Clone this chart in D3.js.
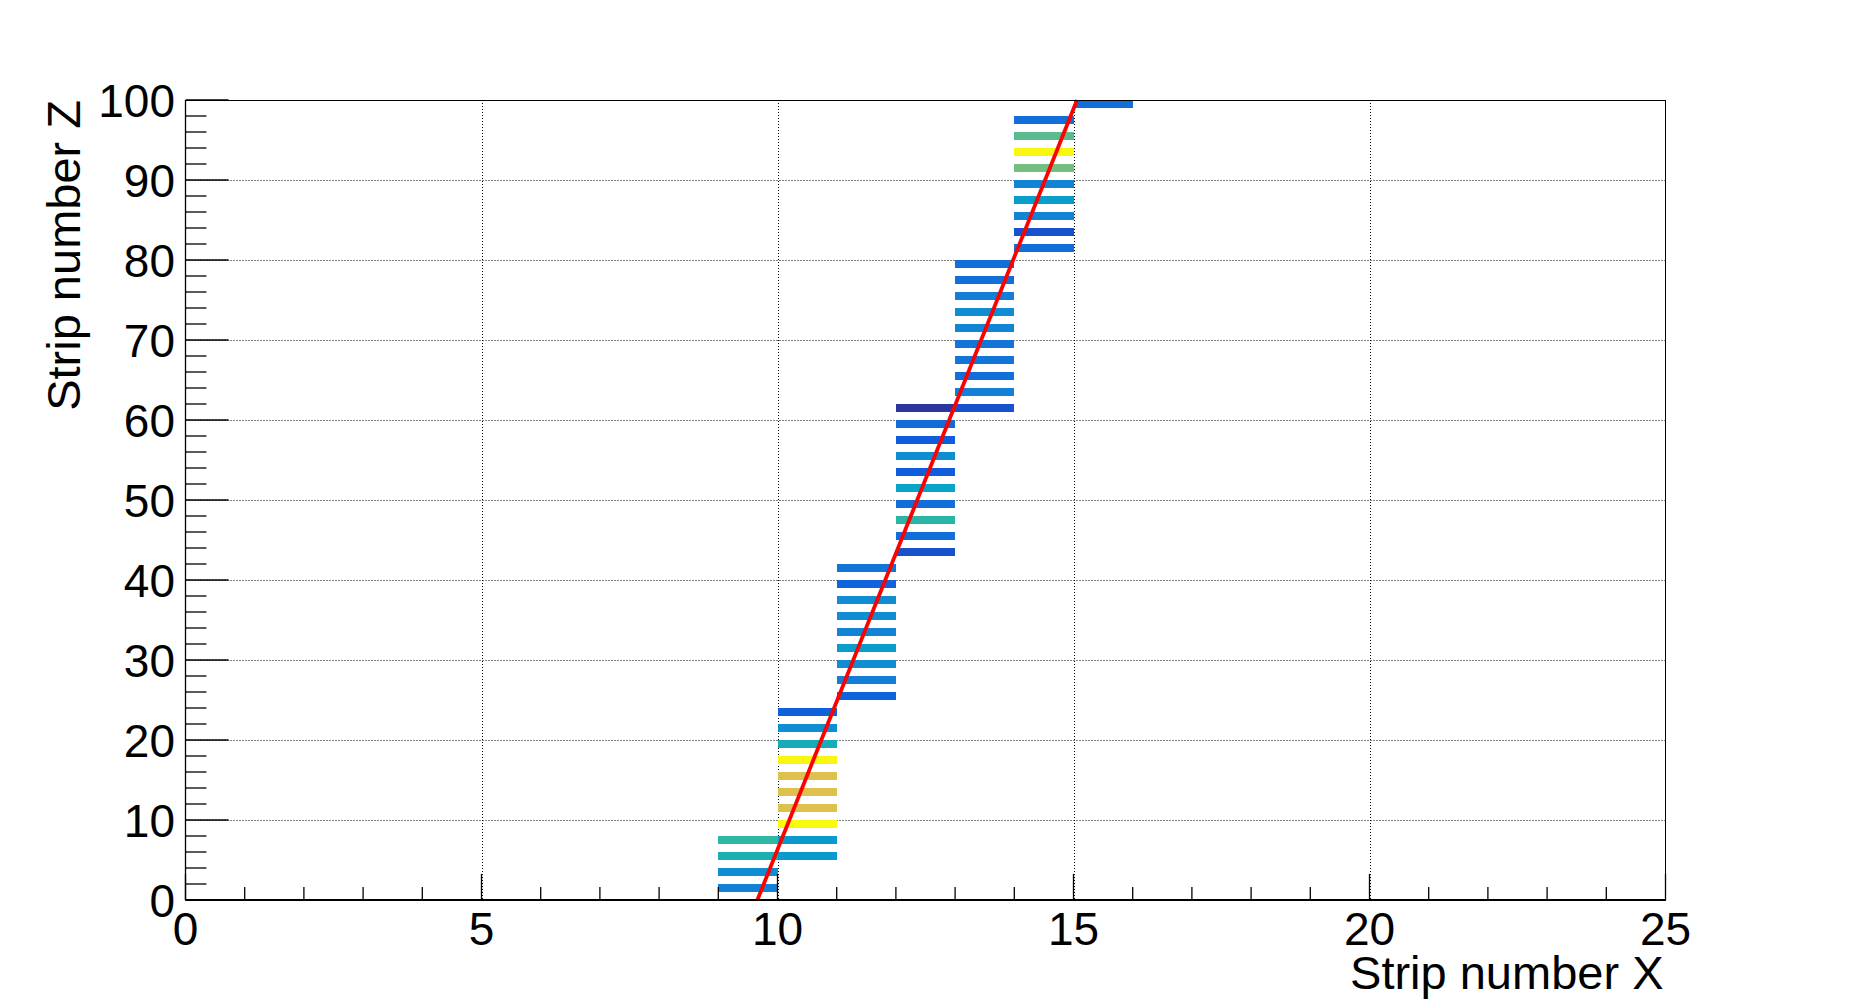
<!DOCTYPE html>
<html>
<head>
<meta charset="utf-8">
<script src="https://cdn.jsdelivr.net/npm/d3@7"></script>
<style>
  html, body { margin: 0; padding: 0; background: #fff; }
  svg { display: block; }
  text { font-family: "Liberation Sans", Arial, Helvetica, sans-serif; fill: #000; }
</style>
</head>
<body>
<svg id="chart" width="1851" height="1000"></svg>
<script>
// ---------- data ----------
// hit cells: strip X bin (lower edge), strip Z bin (lower edge), relative amplitude
const cellX = [
  9, 9, 9, 9,
  10, 10, 10, 10, 10, 10, 10, 10, 10, 10,
  11, 11, 11, 11, 11, 11, 11, 11, 11,
  12, 12, 12, 12, 12, 12, 12, 12, 12, 12,
  13, 13, 13, 13, 13, 13, 13, 13, 13, 13,
  14, 14, 14, 14, 14, 14, 14, 14, 14,
  15
];
const cellZ = [
  1, 3, 5, 7,
  5, 7, 9, 11, 13, 15, 17, 19, 21, 23,
  25, 27, 29, 31, 33, 35, 37, 39, 41,
  43, 45, 47, 49, 51, 53, 55, 57, 59, 61,
  61, 63, 65, 67, 69, 71, 73, 75, 77, 79,
  81, 83, 85, 87, 89, 91, 93, 95, 97,
  99
];
const cellValue = [
  0.25, 0.29, 0.45, 0.50,
  0.34, 0.34, 1.00, 0.79, 0.79, 0.79, 0.99, 0.43, 0.30, 0.14,
  0.15, 0.24, 0.29, 0.35, 0.26, 0.29, 0.29, 0.15, 0.21,
  0.10, 0.19, 0.49, 0.19, 0.38, 0.13, 0.29, 0.13, 0.18, 0.03,
  0.10, 0.25, 0.19, 0.21, 0.21, 0.26, 0.29, 0.24, 0.19, 0.19,
  0.19, 0.10, 0.26, 0.35, 0.26, 0.60, 0.99, 0.56, 0.19,
  0.19
];
// straight-line track fit endpoints
const fitX = [9.66, 15.06];
const fitZ = [0, 100];

// axis ticks
const xMajorTicks = [0, 5, 10, 15, 20, 25];
const xMinorTicks = d3.range(0, 26, 1);
const yMajorTicks = [0, 10, 20, 30, 40, 50, 60, 70, 80, 90, 100];
const yMinorTicks = d3.range(0, 101, 2);
const xTitle = "Strip number X";
const yTitle = "Strip number Z";

// colour palette (ROOT kBird)
const paletteStops = [0, 0.125, 0.25, 0.375, 0.5, 0.625, 0.75, 0.875, 1];
const paletteColors = ["#352a87", "#0f5cdd", "#1481d6", "#06a4ca", "#2eb7a4",
                       "#87bf77", "#d1bb59", "#fec832", "#f9fb0e"];

// ---------- layout ----------
const L = 185.5, R = 1665.5, T = 100, B = 900;
const svg = d3.select("#chart");

const x = d3.scaleLinear().domain([0, 25]).range([L, R]);
const y = d3.scaleLinear().domain([0, 100]).range([B, T]);
const color = d3.scaleLinear().domain(paletteStops).range(paletteColors)
  .interpolate(d3.interpolateRgb).clamp(true);

svg.append("rect").attr("width", 1851).attr("height", 1000).attr("fill", "#fff");

// grid
const grid = svg.append("g").attr("stroke", "#000").attr("stroke-width", 1)
  .attr("stroke-dasharray", "1,2").attr("fill", "none");
grid.selectAll("line.gx").data(xMajorTicks.filter(d => d > 0 && d < 25)).join("line")
  .attr("x1", d => Math.round(x(d)) + 0.5).attr("x2", d => Math.round(x(d)) + 0.5)
  .attr("y1", T).attr("y2", B);
grid.selectAll("line.gy").data(yMajorTicks.filter(d => d > 0 && d < 100)).join("line")
  .attr("class", "gy")
  .attr("y1", d => Math.round(y(d)) + 0.5).attr("y2", d => Math.round(y(d)) + 0.5)
  .attr("x1", L).attr("x2", R);

// cells
const cells = cellX.map((cx, i) => ({ x: cx, z: cellZ[i], v: cellValue[i] }));
svg.append("g").selectAll("rect").data(cells).join("rect")
  .attr("x", d => x(d.x))
  .attr("width", d => x(d.x + 1) - x(d.x))
  .attr("y", d => y(d.z + 1))
  .attr("height", d => y(d.z) - y(d.z + 1))
  .attr("fill", d => color(d.v))
  .attr("shape-rendering", "crispEdges");

// fit line
svg.append("clipPath").attr("id", "plotclip")
  .append("rect").attr("x", L).attr("y", T - 2).attr("width", R - L).attr("height", B - T + 2);
svg.append("path")
  .datum(fitX.map((fx, i) => [fx, fitZ[i]]))
  .attr("clip-path", "url(#plotclip)")
  .attr("d", d3.line().x(d => x(d[0])).y(d => y(d[1])))
  .attr("stroke", "#ff0000").attr("stroke-width", 3.8).attr("fill", "none");

// frame
svg.append("rect").attr("x", L).attr("y", T + 0.5).attr("width", R - L).attr("height", B - T - 0.5)
  .attr("fill", "none").attr("stroke", "#000").attr("stroke-width", 1);

// x axis ticks
const xAxisG = svg.append("g").attr("stroke", "#000").attr("stroke-width", 1.3);
xAxisG.selectAll("line").data(xMinorTicks).join("line")
  .attr("x1", d => x(d)).attr("x2", d => x(d))
  .attr("y1", B).attr("y2", d => xMajorTicks.includes(d) ? B - 26 : B - 13);
svg.append("line").attr("x1", L).attr("x2", R + 0.5).attr("y1", B).attr("y2", B)
  .attr("stroke", "#000").attr("stroke-width", 2);

// y axis ticks
const yAxisG = svg.append("g").attr("stroke", "#000").attr("stroke-width", 1.3);
yAxisG.selectAll("line").data(yMinorTicks).join("line")
  .attr("y1", d => y(d)).attr("y2", d => y(d))
  .attr("x1", L).attr("x2", d => yMajorTicks.includes(d) ? L + 43 : L + 21);
svg.append("line").attr("x1", L).attr("x2", L).attr("y1", T).attr("y2", B)
  .attr("stroke", "#000").attr("stroke-width", 1.3);

// tick labels
const fs = 46;
svg.append("g").selectAll("text").data(xMajorTicks).join("text")
  .attr("x", d => x(d)).attr("y", 945)
  .attr("text-anchor", "middle").attr("font-size", fs)
  .text(d => d);
svg.append("g").selectAll("text").data(yMajorTicks).join("text")
  .attr("x", 175).attr("y", d => y(d))
  .attr("dy", "0.36em")
  .attr("text-anchor", "end").attr("font-size", fs)
  .text(d => d);

// axis titles
svg.append("text").attr("x", R - 2).attr("y", 989)
  .attr("text-anchor", "end").attr("font-size", 47).text(xTitle);
svg.append("text").attr("transform", `translate(80, ${T}) rotate(-90)`)
  .attr("text-anchor", "end").attr("font-size", 47).text(yTitle);
</script>
</body>
</html>
